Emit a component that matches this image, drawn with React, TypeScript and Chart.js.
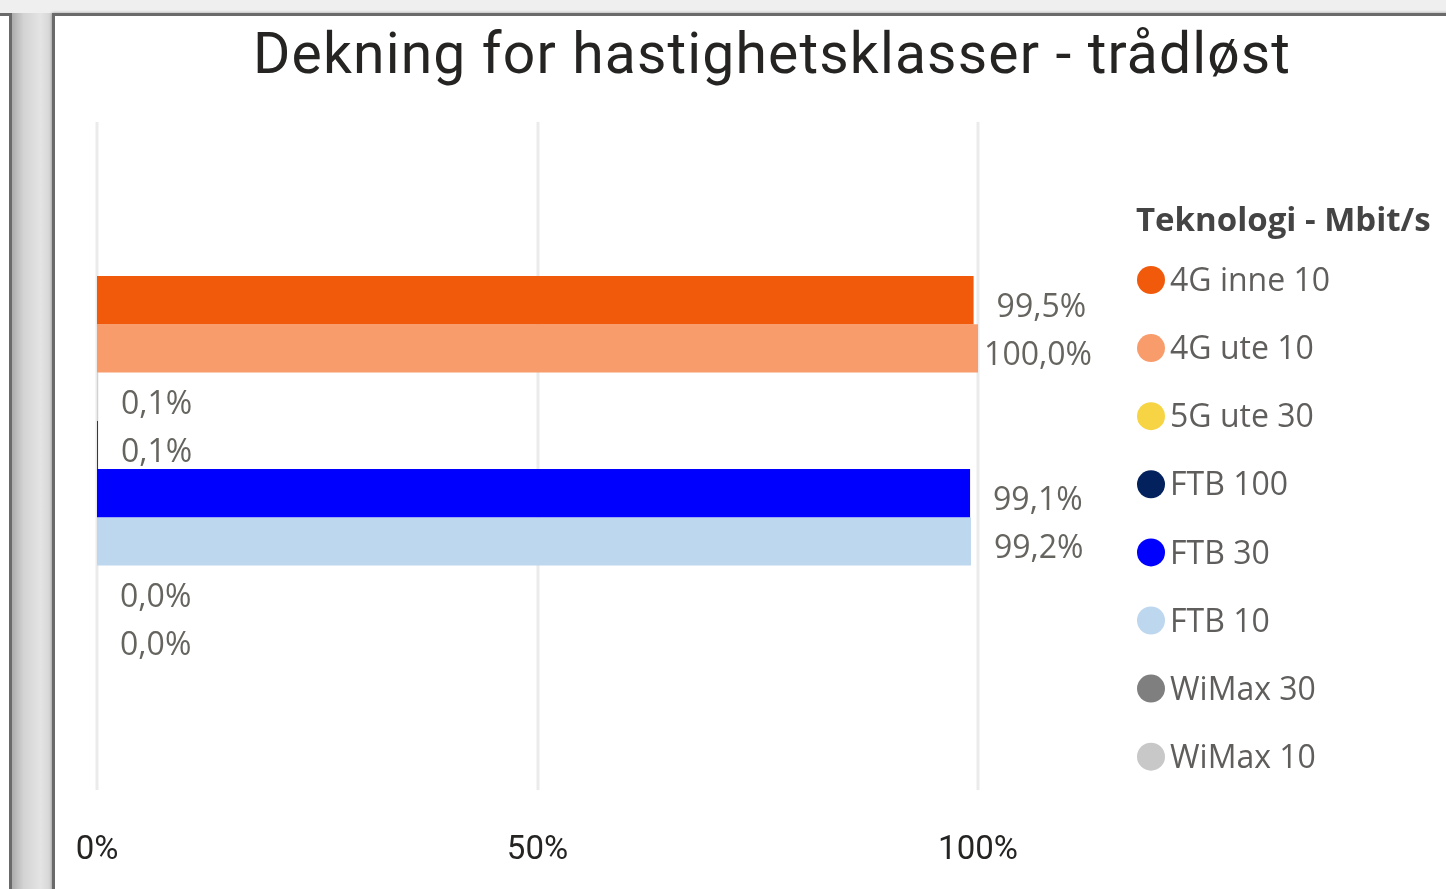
import React, { useEffect, useRef } from 'react';
import { Chart, registerables } from 'chart.js';

Chart.register(...registerables);

// ---- data ----
const categories = ['Dekning'];
const seriesNames = ['4G inne 10', '4G ute 10', '5G ute 30', 'FTB 100', 'FTB 30', 'FTB 10', 'WiMax 30', 'WiMax 10'];
const seriesValues = [99.5, 100.0, 0.1, 0.1, 99.1, 99.2, 0.0, 0.0];
const seriesColors = ['#F25A0B', '#F89C6C', '#F6D443', '#03215C', '#0000FF', '#BDD7EE', '#7F7F7F', '#C8C8C8'];
const xTickValues = [0, 50, 100];
const titleText = 'Dekning for hastighetsklasser - trådløst';
const legendTitle = 'Teknologi - Mbit/s';

// ---- layout constants ----
const W = 1446;
const H = 889;
const PLOT_LEFT = 97;
const PLOT_RIGHT = 978;
const PLOT_TOP = 148;
const PLOT_BOTTOM = 790;
const GRID_TOP = 122;
const LABEL_GAP = 23;
const LABEL_MAX_RIGHT = 1092;
const TITLE_LEFT = 253;
const TITLE_WIDTH = 1037;
const TITLE_BASELINE = 73;
const LEGEND_X = 1137;
const LEGEND_TITLE_Y = 222;
const LEGEND_FIRST_Y = 281;
const LEGEND_STEP = 68.1;
const LABEL_FONT = '32px "Open Sans"';

const fmt = (v: number) => v.toFixed(1).replace('.', ',') + '%';

const gridPlugin = {
  id: 'customGrid',
  beforeDatasetsDraw(chart: any) {
    const { ctx } = chart;
    const s = chart.scales.x;
    ctx.save();
    ctx.strokeStyle = '#ebebeb';
    ctx.lineWidth = 3;
    s.ticks.forEach((t: any) => {
      const x = Math.round(s.getPixelForValue(t.value));
      ctx.beginPath();
      ctx.moveTo(x, GRID_TOP);
      ctx.lineTo(x, chart.chartArea.bottom);
      ctx.stroke();
    });
    ctx.restore();
  },
};

const labelPlugin = {
  id: 'valueLabels',
  afterDatasetsDraw(chart: any) {
    const { ctx } = chart;
    ctx.save();
    ctx.font = LABEL_FONT;
    ctx.fillStyle = '#66645F';
    ctx.textAlign = 'left';
    ctx.textBaseline = 'middle';
    chart.data.datasets.forEach((ds: any, i: number) => {
      const meta = chart.getDatasetMeta(i);
      const el = meta.data[0];
      if (!el) return;
      const text = fmt(ds.data[0]);
      const w = ctx.measureText(text).width;
      const x = Math.min(el.x + LABEL_GAP, LABEL_MAX_RIGHT - w);
      ctx.fillText(text, x, el.y + 8);
    });
    ctx.restore();
  },
};

const titlePlugin = {
  id: 'customTitle',
  afterDraw(chart: any) {
    const { ctx } = chart;
    ctx.save();
    ctx.font = '400 57px Roboto';
    (ctx as any).letterSpacing = '0px';
    const w0 = ctx.measureText(titleText).width;
    const sp = (TITLE_WIDTH - w0) / (titleText.length - 1);
    (ctx as any).letterSpacing = sp + 'px';
    ctx.fillStyle = '#252423';
    ctx.textAlign = 'left';
    ctx.textBaseline = 'alphabetic';
    ctx.fillText(titleText, TITLE_LEFT, TITLE_BASELINE);
    ctx.restore();
  },
};

const legendPlugin = {
  id: 'customLegend',
  afterDraw(chart: any) {
    const { ctx } = chart;
    ctx.save();
    ctx.textAlign = 'left';
    ctx.textBaseline = 'middle';
    ctx.font = 'bold 33px "Open Sans"';
    ctx.fillStyle = '#444444';
    ctx.fillText(legendTitle, LEGEND_X - 1, LEGEND_TITLE_Y);
    ctx.font = LABEL_FONT;
    chart.data.datasets.forEach((ds: any, i: number) => {
      const y = LEGEND_FIRST_Y + i * LEGEND_STEP;
      ctx.fillStyle = ds.backgroundColor;
      ctx.beginPath();
      ctx.arc(LEGEND_X + 14, y - 1, 14, 0, Math.PI * 2);
      ctx.fill();
      ctx.fillStyle = '#605E5C';
      ctx.fillText(ds.label, LEGEND_X + 33, y + 1);
    });
    ctx.restore();
  },
};

export default function App() {
  const ref = useRef<HTMLCanvasElement>(null);

  useEffect(() => {
    if (!ref.current) return;
    const plotH = PLOT_BOTTOM - PLOT_TOP;
    const chart = new Chart(ref.current, {
      type: 'bar',
      data: {
        labels: categories,
        datasets: seriesNames.map((name, i) => ({
          label: name,
          data: [seriesValues[i]],
          backgroundColor: seriesColors[i],
          borderWidth: 0,
          barPercentage: 1,
          categoryPercentage: 386 / plotH,
        })),
      },
      options: {
        indexAxis: 'y',
        animation: false,
        responsive: false,
        devicePixelRatio: 1,
        layout: {
          padding: { left: PLOT_LEFT, right: W - PLOT_RIGHT, top: PLOT_TOP, bottom: 0 },
        },
        scales: {
          x: {
            type: 'linear',
            min: 0,
            max: 100,
            afterBuildTicks: (s: any) => {
              s.ticks = xTickValues.map((v) => ({ value: v }));
            },
            afterFit: (s: any) => {
              s.height = H - PLOT_BOTTOM;
            },
            grid: { display: false, drawTicks: false },
            border: { display: false },
            ticks: {
              padding: 41,
              color: '#252423',
              font: { family: 'Roboto', size: 33 },
              callback: (v: any) => v + '%',
              maxRotation: 0,
            },
          },
          y: { display: false },
        },
        plugins: {
          legend: { display: false },
          title: { display: false },
          tooltip: { enabled: false },
        },
      },
      plugins: [gridPlugin, labelPlugin, titlePlugin, legendPlugin],
    } as any);
    return () => chart.destroy();
  }, []);

  return (
    <div style={{ position: 'fixed', inset: 0, overflow: 'hidden', background: '#efefef' }}>
      <div
        style={{
          position: 'absolute',
          left: 11,
          top: 13,
          width: 42,
          bottom: 0,
          background: 'linear-gradient(to right, #a9a9a9 0%, #d3d3d3 30%, #e4e4e4 70%, #d2d2d2 100%)',
        }}
      />
      <div
        style={{
          position: 'absolute',
          left: -20,
          top: 13,
          width: 32,
          height: 2000,
          boxSizing: 'border-box',
          background: '#ffffff',
          border: '3px solid #6a6a6a',
        }}
      />
      <div
        style={{
          position: 'absolute',
          left: 52,
          top: 13,
          width: 1600,
          height: 2000,
          boxSizing: 'border-box',
          background: '#ffffff',
          border: '3px solid #6a6a6a',
          boxShadow: '0 0 3px rgba(0,0,0,0.35)',
        }}
      />
      <canvas
        ref={ref}
        width={W}
        height={H}
        style={{ position: 'absolute', left: 0, top: 0, width: W, height: H }}
      />
    </div>
  );
}
